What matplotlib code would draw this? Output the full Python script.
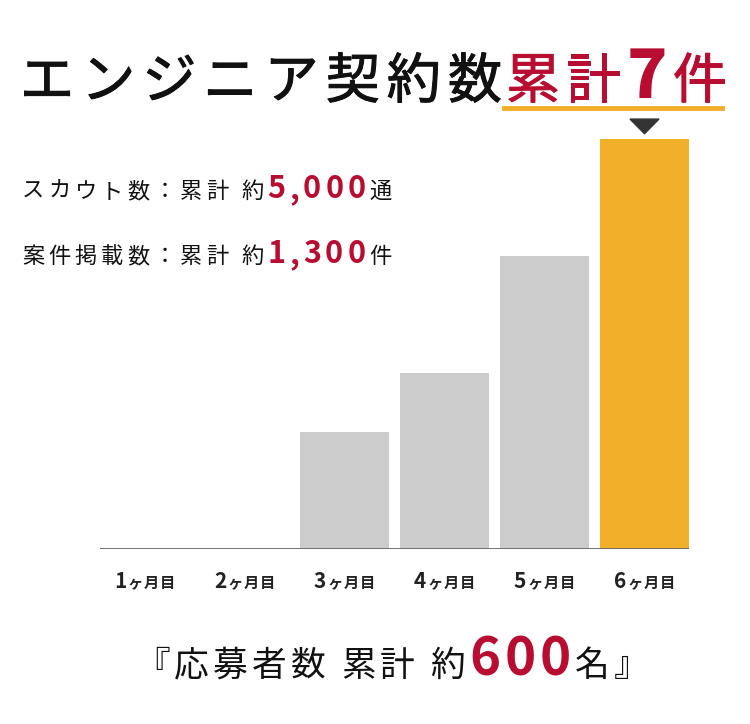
import matplotlib.pyplot as plt
import matplotlib.patches as mpatches
import matplotlib.patheffects as pe

plt.rcParams['font.family'] = ['Noto Sans CJK JP', 'DejaVu Sans']

# データ
meses = ['1', '2', '3', '4', '5', '6']
contratos = [0, 0, 2, 3, 5, 7]

ROJO = '#b80d30'
ORO = '#f2b02a'
GRIS = '#cccccc'
NEGRO = '#111111'

W, H = 750, 724
fig = plt.figure(figsize=(W / 100, H / 100), dpi=100)
renderer = fig.canvas.get_renderer()


def px(x, y):
    return x / W, 1 - y / H


def texto_tramos(x, y, tramos, ha='left', espacio=0, grosor=0):
    """Dibuja trozos de texto seguidos en la misma linea base (x, y en pixeles)"""
    objs = []
    anchos = []
    for s, size, color, weight in tramos:
        for ch in s:
            t = fig.text(0, 0, ch, fontsize=size, color=color, fontweight=weight,
                         va='baseline', ha='left')
            if grosor:
                t.set_path_effects([pe.withStroke(linewidth=grosor, foreground=color)])
            w = t.get_window_extent(renderer).width
            objs.append(t)
            anchos.append(w)
    total = sum(anchos) + espacio * (len(objs) - 1)
    if ha == 'center':
        x = x - total / 2
    elif ha == 'right':
        x = x - total
    cx = x
    for t, w in zip(objs, anchos):
        t.set_position(px(cx, y))
        cx += w + espacio
    return x, x + total


# Ejes de las barras
ax = fig.add_axes([100 / W, 1 - 549 / H, 589 / W, 410 / H])
pos = list(range(len(contratos)))
colores = [GRIS] * (len(contratos) - 1) + [ORO]
barras = ax.bar(pos, contratos, width=0.89, color=colores, zorder=2)
ax.set_xlim(-0.445, len(contratos) - 1 + 0.445)
ax.set_ylim(0, max(contratos))
ax.axhline(0, color='#666666', linewidth=2, zorder=3)
ax.axis('off')

# Triangulo sobre la ultima barra
b = barras[-1]
cx_tri = b.get_x() + b.get_width() / 2
tri = mpatches.Polygon([[cx_tri - 0.145, max(contratos) + 0.34],
                        [cx_tri + 0.145, max(contratos) + 0.34],
                        [cx_tri, max(contratos) + 0.09]],
                       closed=True, color='#333333', clip_on=False)
ax.add_patch(tri)

# Etiquetas de meses
for i, m in enumerate(meses):
    xd = ax.transData.transform((i, 0))[0]
    texto_tramos(xd, 588, [(m, 15, '#222222', 'bold'),
                           ('ヶ月目', 11, '#222222', 'bold')], ha='center', espacio=1)

# Titulo
x0, x1 = texto_tramos(20, 98, [('エンジニア契約数', 39, NEGRO, 'normal')], espacio=7, grosor=0.7)
x2, x3 = texto_tramos(506, 98, [('累計', 39, ROJO, 'normal')], espacio=6, grosor=0.7)
x4, x5 = texto_tramos(x3 + 6, 98, [('7', 48, ROJO, 'black')])
x6, x7 = texto_tramos(x5 + 6, 98, [('件', 39, ROJO, 'normal')], grosor=0.7)
fig.add_artist(plt.Line2D([504 / W, 722 / W], [1 - 108 / H, 1 - 108 / H],
                          color=ORO, linewidth=3.5))

# Textos de resumen
texto_tramos(22, 198, [('スカウト数：累計 約', 16, NEGRO, 'normal'),
                       ('5,000', 22, ROJO, 'bold'),
                       ('通', 16, NEGRO, 'normal')], espacio=4)
texto_tramos(22, 263, [('案件掲載数：累計 約', 16, NEGRO, 'normal'),
                       ('1,300', 22, ROJO, 'bold'),
                       ('件', 16, NEGRO, 'normal')], espacio=4)

# Total de postulantes
texto_tramos(392, 676, [('『応募者数 累計 約', 25, NEGRO, 'normal'),
                        ('600', 38, ROJO, 'bold'),
                        ('名』', 25, NEGRO, 'normal')], ha='center', espacio=4)

fig.savefig('out.png', dpi=100, facecolor='white')
